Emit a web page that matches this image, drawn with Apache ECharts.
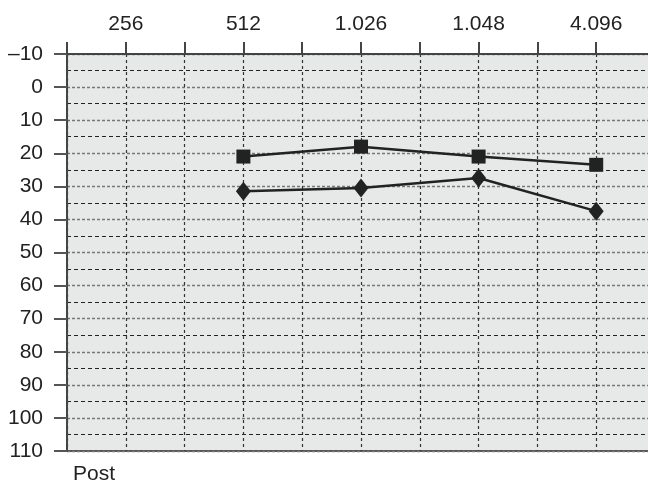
<!DOCTYPE html>
<html>
<head>
<meta charset="utf-8">
<script src="https://cdn.jsdelivr.net/npm/echarts@6/dist/echarts.min.js"></script>
<style>html,body{margin:0;padding:0;background:#fff;overflow:hidden}#c{width:658px;height:490px}</style>
</head>
<body>
<div id="c"></div>
<script>
// Frequency labels placed at odd positions of a half-octave axis
var categories = ['256', '512', '1.026', '1.048', '4.096'];
var categoryPos = [1, 3, 5, 7, 9];
// Series values (dB) at 512, 1.026, 1.048, 4.096
var squareX = [3, 5, 7, 9];
var squareValues = [21, 18, 21, 23.5];
var diamondX = [3, 5, 7, 9];
var diamondValues = [31.5, 30.5, 27.5, 37.5];
var yTicks = [-10, 0, 10, 20, 30, 40, 50, 60, 70, 80, 90, 100, 110];

function pairs(xs, ys) { return xs.map(function (x, i) { return [x, ys[i]]; }); }

var chart = echarts.init(document.getElementById('c'), null, {renderer: 'canvas'});
var font = 'Liberation Sans, Arial, sans-serif';
chart.setOption({
  animation: false,
  grid: {left: 67, top: 54, bottom: 39, right: 1, show: true, backgroundColor: '#e7e8e8', borderWidth: 2, borderColor: '#555'},
  xAxis: {
    type: 'value', position: 'top', min: 0, max: 10, interval: 1,
    axisLine: {show: true, onZero: false, lineStyle: {color: '#444', width: 2}},
    axisTick: {show: true, length: 12, lineStyle: {color: '#444', width: 2}},
    axisLabel: {
      margin: 19, fontSize: 21, color: '#222', fontFamily: font, showMinLabel: true, showMaxLabel: true,
      formatter: function (v) { var i = categoryPos.indexOf(v); return i >= 0 ? categories[i] : ''; }
    },
    splitLine: {show: true, lineStyle: {color: '#333', width: 1.2, type: [3, 3]}}
  },
  yAxis: {
    type: 'value', inverse: true, min: -10, max: 110, interval: 10,
    axisLine: {show: true, onZero: false, lineStyle: {color: '#444', width: 2}},
    axisTick: {show: true, length: 13, lineStyle: {color: '#555', width: 2}},
    axisLabel: {
      margin: 24, fontSize: 21, color: '#222', fontFamily: font,
      formatter: function (v) { return v < 0 ? '\u2013' + Math.abs(v) : String(v); }
    },
    splitLine: {show: true, lineStyle: {color: '#777', width: 1.3, type: [3, 2]}},
    minorTick: {show: false, splitNumber: 2},
    minorSplitLine: {show: true, lineStyle: {color: '#222', width: 1.2, type: [4, 3]}}
  },
  series: [
    {
      type: 'line', data: pairs(squareX, squareValues), symbol: 'rect', symbolSize: 14,
      lineStyle: {color: '#222', width: 2.5}, itemStyle: {color: '#222'}, z: 5
    },
    {
      type: 'line', data: pairs(diamondX, diamondValues), symbol: 'diamond', symbolSize: [15, 19],
      lineStyle: {color: '#222', width: 2.5}, itemStyle: {color: '#222'}, z: 5
    }
  ],
  graphic: [{
    type: 'text', left: 73, top: 464,
    style: {text: 'Post', fontSize: 21, fill: '#222', fontFamily: font}
  }]
});
</script>
</body>
</html>
